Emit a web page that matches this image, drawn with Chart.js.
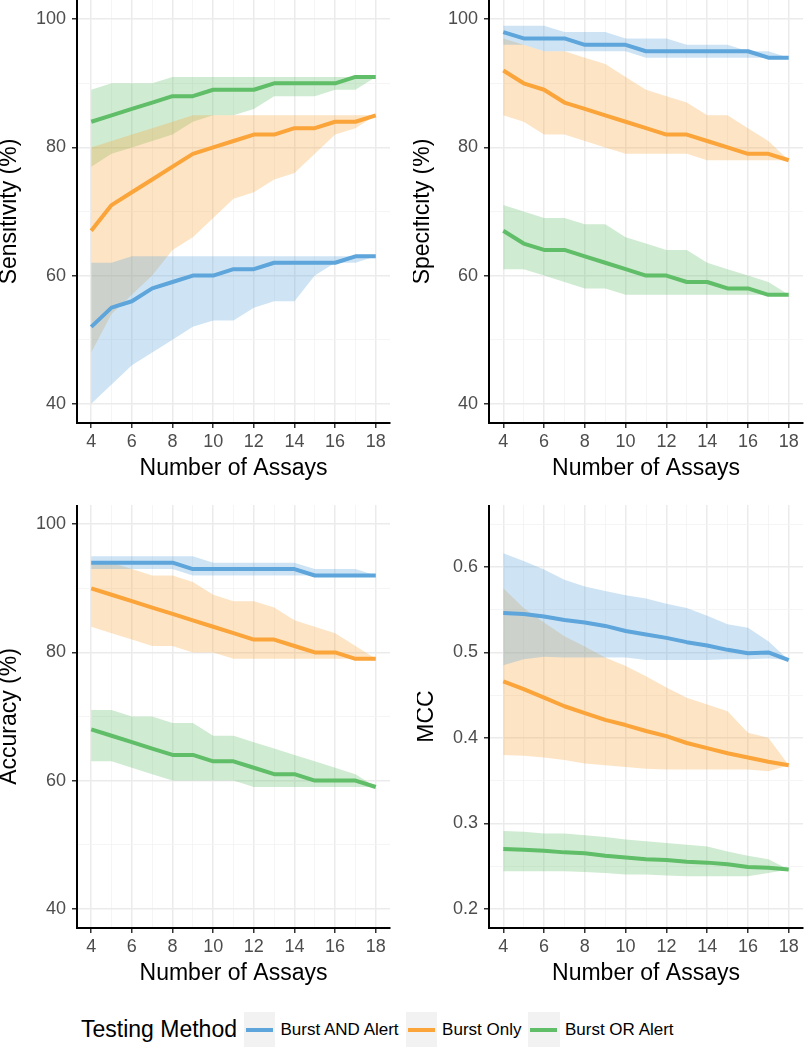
<!DOCTYPE html>
<html>
<head>
<meta charset="utf-8">
<script src="https://cdn.jsdelivr.net/npm/chart.js@4.4.1/dist/chart.umd.min.js"></script>
<style>
  body { margin: 0; background: #fff; width: 805px; height: 1050px; position: relative; overflow: hidden;
         font-family: "Liberation Sans", Arial, sans-serif; }
  canvas { position: absolute; }
  #legend { position: absolute; left: 81px; top: 1012px; height: 35px; display: flex; align-items: center; white-space: nowrap; }
  #legend .title { font-size: 23px; line-height: 35px; margin-right: 7px; color: #000; }
  #legend .key { width: 31.5px; height: 35px; background: #f2f2f2; position: relative; margin-right: 5px; }
  #legend .key span { position: absolute; left: 2px; right: 2.5px; top: 15.5px; height: 4px; }
  #legend .lab { font-size: 17px; line-height: 35px; margin-right: 7px; color: #000; }
</style>
</head>
<body>
<canvas id="c1"></canvas>
<canvas id="c2"></canvas>
<canvas id="c3"></canvas>
<canvas id="c4"></canvas>
<div id="legend"></div>
<script>
// x values (number of assays)
const assays = [4, 5, 6, 7, 8, 9, 10, 11, 12, 13, 14, 15, 16, 17, 18]
const xTicks = [4, 5, 6, 7, 8, 9, 10, 11, 12, 13, 14, 15, 16, 17, 18]
const xLabels = [4, 6, 8, 10, 12, 14, 16, 18]
const pctTicks = [40, 50, 60, 70, 80, 90, 100]
const pctLabels = [40, 60, 80, 100]
const mccTicks = [0.2, 0.25, 0.3, 0.35, 0.4, 0.45, 0.5, 0.55, 0.6, 0.65]
const mccLabels = [0.2, 0.3, 0.4, 0.5, 0.6]

const seriesNames = ['Burst AND Alert', 'Burst Only', 'Burst OR Alert']
const seriesColors = ['#5DA5DA', '#FAA43A', '#60BD68']
const ribbonColors = ['rgba(93,165,218,0.3)', 'rgba(250,164,58,0.3)', 'rgba(96,189,104,0.3)']

// Sensitivity (%)
const sensAndMid = [52, 55, 56, 58, 59, 60, 60, 61, 61, 62, 62, 62, 62, 63, 63]
const sensAndLo = [40, 43, 46, 48, 50, 52, 53, 53, 55, 56, 56, 60, 62, 62, 63]
const sensAndHi = [62, 62, 63, 63, 63, 63, 63, 63, 63, 63, 63, 63, 63, 63, 63]
const sensOnlyMid = [67, 71, 73, 75, 77, 79, 80, 81, 82, 82, 83, 83, 84, 84, 85]
const sensOnlyLo = [48, 54, 57, 60, 64, 66, 69, 72, 73, 75, 76, 79, 82, 83, 85]
const sensOnlyHi = [80, 81, 82, 83, 84, 85, 85, 85, 85, 85, 85, 85, 85, 85, 85]
const sensOrMid = [84, 85, 86, 87, 88, 88, 89, 89, 89, 90, 90, 90, 90, 91, 91]
const sensOrLo = [77, 79, 80, 81, 82, 84, 85, 85, 86, 88, 88, 88, 89, 89, 91]
const sensOrHi = [89, 90, 90, 90, 91, 91, 91, 91, 91, 91, 91, 91, 91, 91, 91]

// Specificity (%)
const specAndMid = [98, 97, 97, 97, 96, 96, 96, 95, 95, 95, 95, 95, 95, 94, 94]
const specAndLo = [96, 96, 95, 95, 95, 95, 95, 94, 94, 94, 94, 94, 94, 94, 94]
const specAndHi = [99, 99, 99, 98, 98, 98, 97, 97, 97, 96, 96, 96, 95, 95, 94]
const specOnlyMid = [92, 90, 89, 87, 86, 85, 84, 83, 82, 82, 81, 80, 79, 79, 78]
const specOnlyLo = [85, 84, 82, 82, 81, 80, 79, 79, 79, 79, 78, 78, 78, 78, 78]
const specOnlyHi = [97, 96, 95, 95, 94, 93, 91, 89, 88, 87, 85, 85, 83, 81, 78]
const specOrMid = [67, 65, 64, 64, 63, 62, 61, 60, 60, 59, 59, 58, 58, 57, 57]
const specOrLo = [61, 61, 60, 59, 58, 58, 57, 57, 57, 57, 57, 57, 57, 57, 57]
const specOrHi = [71, 70, 69, 69, 68, 68, 66, 65, 64, 64, 62, 61, 60, 59, 57]

// Accuracy (%)
const accAndMid = [94, 94, 94, 94, 94, 93, 93, 93, 93, 93, 93, 92, 92, 92, 92]
const accAndLo = [93, 93, 93, 93, 93, 92, 92, 92, 92, 92, 92, 92, 92, 92, 92]
const accAndHi = [95, 95, 95, 95, 95, 95, 94, 94, 94, 94, 94, 93, 93, 93, 92]
const accOnlyMid = [90, 89, 88, 87, 86, 85, 84, 83, 82, 82, 81, 80, 80, 79, 79]
const accOnlyLo = [84, 83, 82, 81, 81, 80, 80, 79, 79, 79, 79, 79, 79, 79, 79]
const accOnlyHi = [94, 94, 93, 92, 92, 91, 89, 88, 88, 87, 85, 84, 83, 81, 79]
const accOrMid = [68, 67, 66, 65, 64, 64, 63, 63, 62, 61, 61, 60, 60, 60, 59]
const accOrLo = [63, 63, 62, 61, 60, 60, 60, 60, 59, 59, 59, 59, 59, 59, 59]
const accOrHi = [71, 71, 70, 70, 69, 69, 67, 67, 66, 65, 64, 63, 62, 61, 59]

// MCC
const mccAndMid = [0.546, 0.545, 0.542, 0.538, 0.535, 0.531, 0.525, 0.521, 0.517, 0.512, 0.508, 0.503, 0.499, 0.5, 0.491]
const mccAndLo = [0.485, 0.492, 0.495, 0.494, 0.494, 0.494, 0.494, 0.491, 0.491, 0.491, 0.491, 0.492, 0.492, 0.493, 0.491]
const mccAndHi = [0.616, 0.607, 0.597, 0.585, 0.577, 0.572, 0.567, 0.563, 0.557, 0.552, 0.543, 0.533, 0.529, 0.513, 0.491]
const mccOnlyMid = [0.466, 0.457, 0.447, 0.437, 0.429, 0.421, 0.415, 0.408, 0.402, 0.394, 0.388, 0.382, 0.377, 0.372, 0.368]
const mccOnlyLo = [0.38, 0.379, 0.377, 0.374, 0.37, 0.368, 0.366, 0.364, 0.363, 0.363, 0.363, 0.363, 0.363, 0.361, 0.368]
const mccOnlyHi = [0.575, 0.552, 0.535, 0.519, 0.507, 0.494, 0.484, 0.472, 0.459, 0.447, 0.439, 0.431, 0.406, 0.4, 0.368]
const mccOrMid = [0.27, 0.269, 0.268, 0.266, 0.265, 0.262, 0.26, 0.258, 0.257, 0.255, 0.254, 0.252, 0.249, 0.248, 0.246]
const mccOrLo = [0.244, 0.244, 0.244, 0.244, 0.243, 0.242, 0.24, 0.24, 0.239, 0.238, 0.238, 0.238, 0.238, 0.242, 0.246]
const mccOrHi = [0.291, 0.29, 0.288, 0.288, 0.286, 0.284, 0.281, 0.279, 0.277, 0.275, 0.273, 0.267, 0.262, 0.258, 0.246]

// one entry per facet: placement + which arrays it uses
const panels = [
  {id: 'c1', left: 0, top: 0, width: 395, padRight: 5, yWidth: 77, title: 'Sensitivity (%)',
   min: 37, max: 103, ticks: pctTicks, labels: pctLabels,
   mid: [sensAndMid, sensOnlyMid, sensOrMid], lo: [sensAndLo, sensOnlyLo, sensOrLo], hi: [sensAndHi, sensOnlyHi, sensOrHi]},
  {id: 'c2', left: 413, top: 0, width: 392, padRight: 2, yWidth: 76, title: 'Specificity (%)',
   min: 37, max: 103, ticks: pctTicks, labels: pctLabels,
   mid: [specAndMid, specOnlyMid, specOrMid], lo: [specAndLo, specOnlyLo, specOrLo], hi: [specAndHi, specOnlyHi, specOrHi]},
  {id: 'c3', left: 0, top: 505, width: 395, padRight: 5, yWidth: 77, title: 'Accuracy (%)',
   min: 37, max: 103, ticks: pctTicks, labels: pctLabels,
   mid: [accAndMid, accOnlyMid, accOrMid], lo: [accAndLo, accOnlyLo, accOrLo], hi: [accAndHi, accOnlyHi, accOrHi]},
  {id: 'c4', left: 417, top: 505, width: 388, padRight: 2, yWidth: 72, title: 'MCC',
   min: 0.1775, max: 0.6725, ticks: mccTicks, labels: mccLabels,
   mid: [mccAndMid, mccOnlyMid, mccOrMid], lo: [mccAndLo, mccOnlyLo, mccOrLo], hi: [mccAndHi, mccOnlyHi, mccOrHi]},
]

const toPoints = arr => assays.map((x, i) => ({x, y: arr[i]}))
const tickFont = {family: '"Liberation Sans", Arial, sans-serif', size: 18}
const titleFont = {family: '"Liberation Sans", Arial, sans-serif', size: 23, lineHeight: 0.8}

function gridFor(majors) {
  return {
    color: ctx => majors.includes(ctx.tick.value) ? '#ebebeb' : '#f3f3f3',
    lineWidth: ctx => majors.includes(ctx.tick.value) ? 1.5 : 0.8,
    tickColor: ctx => majors.includes(ctx.tick.value) ? '#333333' : 'rgba(0,0,0,0)',
    tickWidth: 1.5,
    tickLength: 5,
  }
}

panels.forEach(p => {
  const canvas = document.getElementById(p.id)
  canvas.width = p.width
  canvas.height = 490
  canvas.style.left = p.left + 'px'
  canvas.style.top = p.top + 'px'

  const datasets = []
  // ribbons first (lower bound, then upper filled down to it)
  seriesNames.forEach((name, s) => {
    datasets.push({data: toPoints(p.lo[s]), borderWidth: 0, borderColor: 'rgba(0,0,0,0)', pointRadius: 0, fill: false})
    datasets.push({data: toPoints(p.hi[s]), borderWidth: 0, borderColor: 'rgba(0,0,0,0)', pointRadius: 0,
      fill: '-1', backgroundColor: ribbonColors[s]})
  })
  // then the lines
  seriesNames.forEach((name, s) => {
    datasets.push({label: name, data: toPoints(p.mid[s]), borderColor: seriesColors[s], borderWidth: 4,
      pointRadius: 0, fill: false, tension: 0, borderJoinStyle: 'round', borderCapStyle: 'butt'})
  })

  new Chart(canvas, {
    type: 'line',
    data: {datasets},
    options: {
      responsive: false,
      animation: false,
      layout: {padding: {left: 0, top: 0, right: p.padRight, bottom: 0}},
      plugins: {
        legend: {display: false},
        tooltip: {enabled: false},
        filler: {propagate: false, drawTime: 'beforeDatasetsDraw'},
      },
      scales: {
        x: {
          type: 'linear',
          min: 3.3,
          max: 18.7,
          afterBuildTicks: s => { s.ticks = xTicks.map(v => ({value: v})) },
          afterFit: s => { s.height = 67; s.paddingLeft = 0; s.paddingRight = 0 },
          ticks: {autoSkip: false, maxRotation: 0, padding: 3, color: '#4d4d4d', font: tickFont,
            callback: v => xLabels.includes(v) ? String(v) : ''},
          grid: gridFor(xLabels),
          border: {color: '#000', width: 2},
          title: {display: true, text: 'Number of Assays', color: '#000', font: titleFont,
            padding: {top: 0, bottom: 12.5}},
        },
        y: {
          type: 'linear',
          min: p.min,
          max: p.max,
          afterBuildTicks: s => { s.ticks = p.ticks.map(v => ({value: v})) },
          afterFit: s => { s.width = p.yWidth; s.paddingTop = 0; s.paddingBottom = 0 },
          ticks: {autoSkip: false, padding: 6, color: '#4d4d4d', font: tickFont,
            callback: v => p.labels.includes(v) ? String(v) : ''},
          grid: gridFor(p.labels),
          border: {color: '#000', width: 2},
          title: {display: true, text: p.title, color: '#000', font: titleFont, padding: {top: 0, bottom: 0}},
        },
      },
    },
  })
})

// legend, built from the same series arrays
const legend = document.getElementById('legend')
let html = '<span class="title">Testing Method</span>'
seriesNames.forEach((name, s) => {
  html += '<span class="key"><span style="background:' + seriesColors[s] + '"></span></span>'
  html += '<span class="lab">' + name + '</span>'
})
legend.innerHTML = html
</script>
</body>
</html>
